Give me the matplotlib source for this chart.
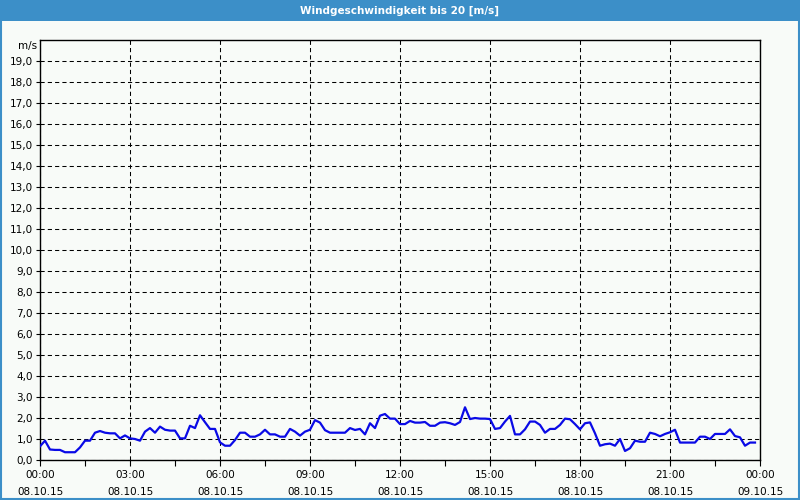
import numpy as np
import matplotlib
matplotlib.use("Agg")
import matplotlib.pyplot as plt
from matplotlib.patches import Rectangle

# Windgeschwindigkeit, 10-Minuten-Werte ab 08.10.15 00:00
wind = [
    0.65, 0.92, 0.5, 0.48, 0.48, 0.37, 0.37, 0.37, 0.6, 0.92, 0.92, 1.3,
    1.38, 1.3, 1.27, 1.27, 1.03, 1.17, 1.03, 1.0, 0.92, 1.35, 1.52, 1.3,
    1.59, 1.44, 1.4, 1.4, 1.03, 1.03, 1.63, 1.52, 2.13, 1.8, 1.48, 1.48,
    0.84, 0.68, 0.68, 0.95, 1.3, 1.3, 1.11, 1.11, 1.22, 1.44, 1.22, 1.22,
    1.11, 1.11, 1.48, 1.35, 1.16, 1.35, 1.44, 1.9, 1.78, 1.42, 1.3, 1.3,
    1.3, 1.3, 1.52, 1.43, 1.48, 1.22, 1.75, 1.52, 2.11, 2.19, 1.97, 1.97,
    1.71, 1.71, 1.86, 1.78, 1.78, 1.81, 1.63, 1.63, 1.78, 1.8, 1.75, 1.67,
    1.81, 2.51, 1.95, 2.0, 1.97, 1.97, 1.95, 1.48, 1.52, 1.83, 2.1, 1.22,
    1.22, 1.46, 1.83, 1.83, 1.67, 1.3, 1.48, 1.48, 1.67, 1.97, 1.94, 1.71,
    1.46, 1.75, 1.79, 1.27, 0.68, 0.75, 0.78, 0.68, 1.0, 0.43, 0.56, 0.92,
    0.87, 0.87, 1.3, 1.24, 1.13, 1.24, 1.32, 1.44, 0.83, 0.83, 0.83, 0.83,
    1.11, 1.11, 1.0, 1.24, 1.24, 1.24, 1.46, 1.14, 1.08, 0.68, 0.83, 0.83,
]
stunden = np.arange(len(wind)) / 6.0

x_ticks = [0, 3, 6, 9, 12, 15, 18, 21, 24]
x_labels = ["00:00\n08.10.15", "03:00\n08.10.15", "06:00\n08.10.15",
            "09:00\n08.10.15", "12:00\n08.10.15", "15:00\n08.10.15",
            "18:00\n08.10.15", "21:00\n08.10.15", "00:00\n09.10.15"]
y_ticks = list(range(0, 20))
titel = "Windgeschwindigkeit bis 20 [m/s]"

blau = "#3c8fc8"
hintergrund = "#f8fbf8"

plt.rcParams["font.family"] = "DejaVu Sans"

fig = plt.figure(figsize=(8, 5), dpi=100, facecolor=hintergrund)
ax = fig.add_axes([40 / 800, 40 / 500, 720 / 800, 420 / 500])
ax.set_facecolor(hintergrund)

# Titelleiste und Rahmen
fig.patches.append(Rectangle((0, 1 - 21 / 500), 1, 21 / 500, transform=fig.transFigure,
                             facecolor=blau, edgecolor="none", zorder=0))
fig.patches.append(Rectangle((0.001, 0.002), 0.998, 0.996, transform=fig.transFigure,
                             facecolor="none", edgecolor=blau, linewidth=1.5, zorder=5))
fig.text(0.5, 1 - 10.5 / 500, titel, color="white", fontsize=7.5, fontweight="bold",
         ha="center", va="center")

ax.plot(stunden, wind, color="#0a0ae6", linewidth=1.6, zorder=3)

ax.set_xlim(0, 24)
ax.set_ylim(0, 20)
ax.set_xticks(x_ticks)
ax.set_xticklabels(x_labels, linespacing=1.9)
ax.set_xticks(np.arange(1.5, 24, 3), minor=True)
ax.set_yticks(y_ticks)
ax.set_yticklabels([f"{v:.1f}".replace(".", ",") for v in y_ticks])

ax.tick_params(axis="both", which="both", direction="out", colors="black",
               labelsize=7.5, width=0.8)
ax.tick_params(axis="x", which="major", length=4, pad=3)
ax.tick_params(axis="x", which="minor", length=4)
ax.tick_params(axis="y", length=3, pad=2)

ax.grid(True, which="major", color="black", linestyle=(0, (4, 3)), linewidth=0.75)
for s in ax.spines.values():
    s.set_color("black")
    s.set_linewidth(1.0)

ax.text(-0.004, 20 - 0.3, "m/s", transform=ax.get_yaxis_transform(), ha="right",
        va="center", fontsize=7.5)

fig.savefig("out.png", dpi=100, facecolor=hintergrund)
